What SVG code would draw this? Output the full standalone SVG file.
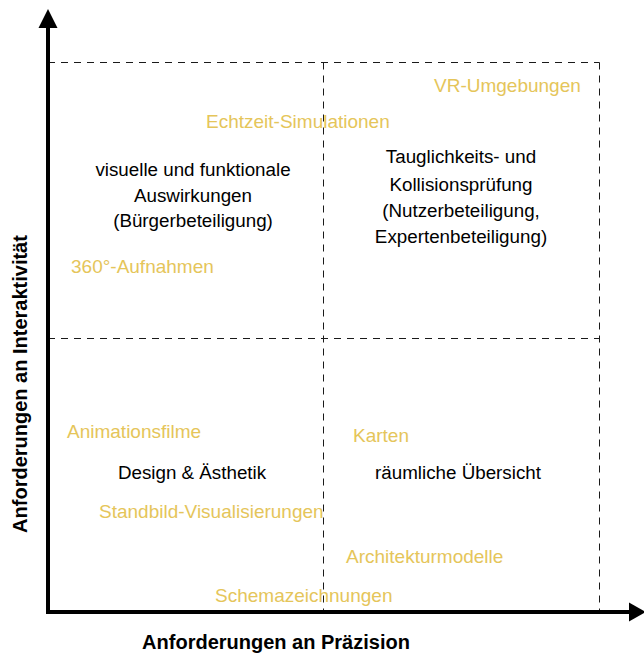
<svg xmlns="http://www.w3.org/2000/svg" width="644" height="655" viewBox="0 0 644 655">
<style>
.grid{stroke:#1a1a1a;stroke-width:1;stroke-dasharray:7 6;fill:none}
.axis{stroke:#000;stroke-width:4;fill:none}
.t{font-family:"Liberation Sans",Arial,sans-serif;font-size:18.8px;fill:#000;text-anchor:middle}
.g{font-family:"Liberation Sans",Arial,sans-serif;font-size:19px;fill:#E5C55A}
.b{font-family:"Liberation Sans",Arial,sans-serif;font-size:20px;font-weight:bold;fill:#000;text-anchor:middle}
</style>
<rect width="644" height="655" fill="#fff"/>
<g id="grid">
<line class="grid" x1="48" y1="62.5" x2="599.5" y2="62.5"/>
<line class="grid" x1="599.5" y1="62.5" x2="599.5" y2="612"/>
<line class="grid" x1="323.5" y1="62.5" x2="323.5" y2="612"/>
<line class="grid" x1="48" y1="338.5" x2="599.5" y2="338.5"/>
</g>
<g id="axes">
<line class="axis" x1="48" y1="614" x2="48" y2="25"/>
<polygon points="48,9 38.5,28 57.5,28" fill="#000"/>
<line class="axis" x1="46" y1="612" x2="632" y2="612"/>
<polygon points="646,612 629,602.5 629,621.5" fill="#000"/>
</g>
<g id="labels">
<text class="b" x="276" y="649">Anforderungen an Präzision</text>
<text class="b" transform="translate(27,384) rotate(-90)">Anforderungen an Interaktivität</text>
</g>
<g id="q1">
<text class="t" x="193" y="176">visuelle und funktionale</text>
<text class="t" x="193" y="202">Auswirkungen</text>
<text class="t" x="193" y="227">(Bürgerbeteiligung)</text>
</g>
<g id="q2">
<text class="t" x="461" y="163">Tauglichkeits- und</text>
<text class="t" x="461" y="191">Kollisionsprüfung</text>
<text class="t" x="461" y="217">(Nutzerbeteiligung,</text>
<text class="t" x="461" y="243">Expertenbeteiligung)</text>
</g>
<g id="q3"><text class="t" x="192" y="479">Design &amp; Ästhetik</text></g>
<g id="q4"><text class="t" x="458" y="479">räumliche Übersicht</text></g>
<g id="media">
<text class="g" x="434" y="92">VR-Umgebungen</text>
<text class="g" x="206" y="128">Echtzeit-Simulationen</text>
<text class="g" x="71" y="273">360°-Aufnahmen</text>
<text class="g" x="67" y="438">Animationsfilme</text>
<text class="g" x="353" y="442">Karten</text>
<text class="g" x="99" y="518">Standbild-Visualisierungen</text>
<text class="g" x="346" y="563">Architekturmodelle</text>
<text class="g" x="215" y="602">Schemazeichnungen</text>
</g>
</svg>
